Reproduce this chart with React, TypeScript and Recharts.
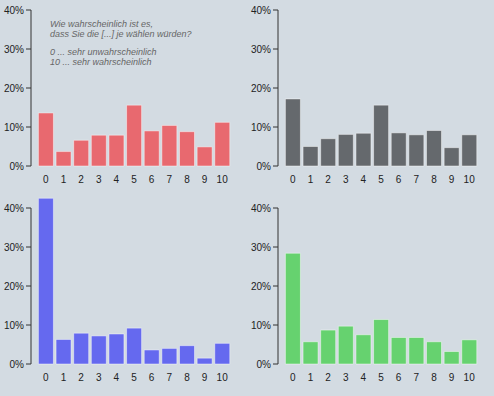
import React from "react";
import { BarChart, Bar, XAxis, YAxis } from "recharts";

const labels = ["0", "1", "2", "3", "4", "5", "6", "7", "8", "9", "10"];
const redValues = [13.6, 3.7, 6.6, 7.9, 7.9, 15.6, 9.0, 10.4, 8.8, 4.9, 11.2];
const grayValues = [17.2, 5.0, 7.0, 8.1, 8.4, 15.6, 8.5, 8.0, 9.1, 4.7, 8.0];
const blueValues = [42.5, 6.3, 7.9, 7.2, 7.7, 9.2, 3.6, 4.0, 4.7, 1.5, 5.3];
const greenValues = [28.4, 5.7, 8.7, 9.7, 7.5, 11.4, 6.8, 6.8, 5.7, 3.2, 6.2];
const yTicks = [0, 10, 20, 30, 40];
const noteLines = [
  "Wie wahrscheinlich ist es,",
  "dass Sie die [...] je wählen würden?",
  "0 ... sehr unwahrscheinlich",
  "10 ... sehr wahrscheinlich",
];

const W = 247;
const H = 198;
const EXTRA = 39; // room above the 40% line for bars that go past it
const FONT = "Arial, 'Liberation Sans', sans-serif";

const toRows = (values: number[]) => labels.map((label, i) => ({ label, value: values[i] }));

function Panel({ values, color, left, top }: { values: number[]; color: string; left: number; top: number }) {
  const data = toRows(values);
  return (
    <div style={{ position: "absolute", left, top, width: W, height: H }}>
      {/* axes (the bar here is invisible, it only gives the axes a series) */}
      <div style={{ position: "absolute", left: 0, top: 0 }}>
        <BarChart width={W} height={H} data={data} margin={{ top: 10, right: 10, bottom: 0, left: 0 }}>
          <XAxis
            dataKey="label"
            axisLine={false}
            tickLine={false}
            interval={0}
            height={32}
            tickMargin={4}
            padding={{ left: 6, right: 6 }}
            tick={{ fontSize: 10, fill: "#222", fontFamily: FONT }}
          />
          <YAxis
            type="number"
            domain={[0, 40]}
            allowDataOverflow
            ticks={yTicks}
            width={31}
            tickSize={5}
            tickMargin={2}
            axisLine={{ stroke: "#333" }}
            tickLine={{ stroke: "#333" }}
            tickFormatter={(v) => `${v}%`}
            tick={{ fontSize: 10, fill: "#222", fontFamily: FONT }}
          />
          <Bar dataKey="value" fill="none" stroke="none" isAnimationActive={false} />
        </BarChart>
      </div>
      {/* bars, on a taller plot so values over 40% are not cut */}
      <div style={{ position: "absolute", left: 0, top: -EXTRA }}>
        <BarChart
          width={W}
          height={H + EXTRA}
          data={data}
          barCategoryGap="8%"
          margin={{ top: 10, right: 10, bottom: 32, left: 31 }}
        >
          <XAxis dataKey="label" hide padding={{ left: 6, right: 6 }} />
          <YAxis type="number" domain={[0, 50]} hide />
          <Bar
            dataKey="value"
            fill={color}
            stroke="rgba(255,255,255,0.45)"
            strokeWidth={1}
            isAnimationActive={false}
          />
        </BarChart>
      </div>
    </div>
  );
}

export default function App() {
  return (
    <div
      style={{
        position: "absolute",
        left: 0,
        top: 0,
        width: 494,
        height: 396,
        background: "#d3dbe2",
        overflow: "hidden",
        fontFamily: FONT,
      }}
    >
      <Panel values={redValues} color="#e8696f" left={0} top={0} />
      <Panel values={grayValues} color="#65696d" left={247} top={0} />
      <Panel values={blueValues} color="#6569ef" left={0} top={198} />
      <Panel values={greenValues} color="#66d26f" left={247} top={198} />
      <div
        style={{
          position: "absolute",
          left: 50,
          top: 19,
          fontSize: 9,
          fontStyle: "italic",
          color: "#666",
          lineHeight: "10px",
        }}
      >
        <div>{noteLines[0]}</div>
        <div>{noteLines[1]}</div>
        <div style={{ marginTop: 8 }}>{noteLines[2]}</div>
        <div>{noteLines[3]}</div>
      </div>
    </div>
  );
}
